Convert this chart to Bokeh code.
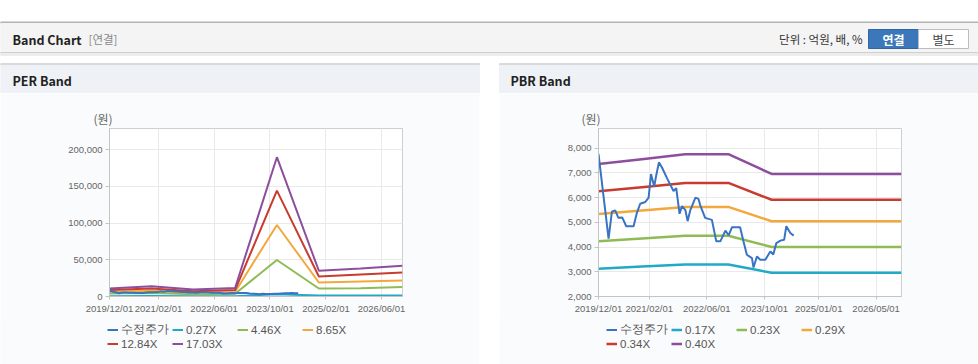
import pandas as pd
from bokeh.plotting import figure
from bokeh.models import (Range1d, FixedTicker, NumeralTickFormatter, DatetimeTickFormatter,
                          Legend, LegendItem, ColumnDataSource, Spacer)
from bokeh.layouts import column, row
from bokeh.embed import file_html
from bokeh.resources import INLINE
from bokeh.core.properties import value

# ---------------- data ----------------
band_dates = ["2019-12-01", "2020-12-01", "2021-12-01", "2022-12-01",
              "2023-12-01", "2024-12-01", "2025-12-01", "2026-12-01"]

per_labels = ["수정주가", "0.27X", "4.46X", "8.65X", "12.84X", "17.03X"]
per_027 = [500, 600, 400, 500, 3000, 1200, 1300, 1400]
per_446 = [4100, 4700, 3100, 3800, 49700, 10900, 11200, 12800]
per_865 = [6400, 7700, 5200, 6200, 97500, 19100, 20500, 21900]
per_1284 = [8700, 10900, 7300, 8800, 144400, 27300, 30000, 32800]
per_1703 = [10900, 14000, 9600, 11500, 189900, 35100, 38000, 41900]

pbr_labels = ["수정주가", "0.17X", "0.23X", "0.29X", "0.34X", "0.40X"]
pbr_017 = [3128, 3213, 3298, 3298, 2958, 2958, 2958, 2958]
pbr_023 = [4232, 4347, 4462, 4462, 4002, 4002, 4002, 4002]
pbr_029 = [5336, 5481, 5626, 5626, 5046, 5046, 5046, 5046]
pbr_034 = [6256, 6426, 6596, 6596, 5916, 5916, 5916, 5916]
pbr_040 = [7360, 7560, 7760, 7760, 6960, 6960, 6960, 6960]

price_dates = ["2019-12-01", "2020-02-24", "2020-03-23", "2020-04-20", "2020-05-17", "2020-06-18",
               "2020-07-22", "2020-09-22", "2020-10-20", "2020-11-17", "2020-12-30", "2021-01-27",
               "2021-02-16", "2021-03-15", "2021-04-01", "2021-04-24", "2021-05-22", "2021-07-05",
               "2021-08-25", "2021-09-17", "2021-10-15", "2021-11-05", "2021-12-03", "2021-12-22",
               "2022-01-14", "2022-02-26", "2022-03-24", "2022-04-07", "2022-05-19", "2022-07-15",
               "2022-08-21", "2022-09-24", "2022-11-06", "2022-12-03", "2023-01-01", "2023-03-10",
               "2023-04-07", "2023-05-06", "2023-06-18", "2023-07-01", "2023-07-30", "2023-08-27",
               "2023-10-09", "2023-11-20", "2023-12-15", "2024-01-10", "2024-02-13", "2024-03-16",
               "2024-04-03", "2024-05-07", "2024-06-04"]
price_values = [7771, 4343, 5429, 5486, 5184, 5200,
                4845, 4845, 5388, 5755, 5825, 6000,
                6955, 6449, 6900, 7429, 7200, 6751,
                6273, 6384, 5347, 5661, 5500, 5049,
                5500, 6000, 5950, 5700, 5184, 5102,
                4233, 4233, 4669, 4478, 4804, 4804,
                4233, 3690, 3551, 3171, 3620, 3486,
                3486, 3824, 3700, 4163, 4262, 4300,
                4845, 4571, 4465]

per_xticks = ["2019/12/01", "2021/02/01", "2022/06/01", "2023/10/01", "2025/02/01", "2026/06/01"]
pbr_xticks = ["2019/12/01", "2021/02/01", "2022/06/01", "2023/10/01", "2025/01/01", "2026/05/01"]
per_yticks = [0, 50000, 100000, 150000, 200000]
pbr_yticks = [2000, 3000, 4000, 5000, 6000, 7000, 8000]
x_start, x_end = "2019-12-01", "2026-12-01"

colors = ["#3874c3", "#22a9c5", "#8fbb55", "#f2a83c", "#c93b2e", "#8d4f9d"]

# ---------------- helpers ----------------
KFONT = "Noto Sans CJK KR"
AFONT = "Liberation Sans"
PANEL_BG = "#fafbfc"
CH_H = 225      # chart figure height (y 93..318)
LEG_H = 46      # legend strip height (y 318..364)


def ms(dstrs, fmt=None):
    return [pd.Timestamp(pd.to_datetime(d, format=fmt)).value // 10**6 for d in dstrs]


def chart(series, yr, yticks, xticks, left, right, title_off, linew):
    p = figure(width=479, height=CH_H, x_axis_type="datetime",
               x_range=Range1d(pd.Timestamp(x_start), pd.Timestamp(x_end)),
               y_range=Range1d(*yr), output_backend="svg", toolbar_location=None,
               min_border_left=left, min_border_right=right, min_border_top=35,
               min_border_bottom=22)
    p.border_fill_color = PANEL_BG
    p.background_fill_color = "#ffffff"
    p.outline_line_color = "#cfcfcf"
    p.title.text = "(원)"
    p.title.align = "left"
    p.title.offset = title_off
    p.title.standoff = 4
    p.title.text_font = KFONT
    p.title.text_font_size = "12px"
    p.title.text_font_style = "normal"
    p.title.text_color = "#666666"

    xt = ms(xticks, "%Y/%m/%d")
    p.xaxis.ticker = FixedTicker(ticks=xt)
    p.xgrid.ticker = FixedTicker(ticks=xt)
    fmt = "%Y/%m/%d"
    p.xaxis.formatter = DatetimeTickFormatter(milliseconds=fmt, seconds=fmt, minsec=fmt, minutes=fmt,
                                              hourmin=fmt, hours=fmt, days=fmt, months=fmt, years=fmt)
    p.yaxis.ticker = FixedTicker(ticks=yticks)
    p.ygrid.ticker = FixedTicker(ticks=yticks)
    p.yaxis.formatter = NumeralTickFormatter(format="0,0")
    for ax in (p.xaxis, p.yaxis):
        ax.axis_line_color = "#c4c4c4"
        ax.major_tick_line_color = "#c4c4c4"
        ax.minor_tick_line_color = None
        ax.major_tick_in = 0
        ax.major_label_text_font = AFONT
        ax.major_label_text_font_size = "9.5px"
        ax.major_label_text_color = "#666666"
    p.xaxis.major_tick_out = 3
    p.xaxis.major_label_standoff = 3
    p.yaxis.major_tick_out = 4
    p.yaxis.major_label_standoff = 3
    p.grid.grid_line_color = "#e9e9e9"

    bd = pd.to_datetime(band_dates)
    for i, vals in enumerate(series):
        src = ColumnDataSource(dict(x=bd, y=vals))
        p.line("x", "y", source=src, line_color=colors[i + 1], line_width=linew)
    psrc = ColumnDataSource(dict(x=pd.to_datetime(price_dates), y=price_values))
    p.line("x", "y", source=psrc, line_color=colors[0], line_width=2)
    return p


def legend_strip(labels, linew):
    f = figure(width=479, height=LEG_H, x_range=Range1d(0, 1), y_range=Range1d(0, 1),
               output_backend="svg", toolbar_location=None, min_border=0,
               x_axis_location=None, y_axis_location=None)
    f.grid.visible = False
    f.outline_line_color = None
    f.background_fill_color = PANEL_BG
    f.border_fill_color = PANEL_BG
    nan = float("nan")
    rs = []
    for i, lab in enumerate(labels):
        lw = 2 if i == 0 else linew
        rs.append(f.line(x=[nan], y=[nan], line_color=colors[i], line_width=lw))
    items = [LegendItem(label=labels[i], renderers=[rs[i]]) for i in range(len(labels))]
    leg = Legend(items=items, location=(107, 14), orientation="horizontal", ncols=4,
                 glyph_width=11, glyph_height=13, label_standoff=3, spacing=0, padding=0,
                 margin=0, label_height=13, label_width=51, label_text_font=AFONT,
                 label_text_font_size="11.5px", label_text_color="#555555",
                 background_fill_alpha=0, border_line_alpha=0)
    f.add_layout(leg)
    return f


# ---------------- header (main bar + panel title bars) ----------------
W = 978
hdr = figure(width=W, height=93, x_range=Range1d(0, W), y_range=Range1d(93, 0),
             output_backend="svg", toolbar_location=None, min_border=0,
             x_axis_location=None, y_axis_location=None)
hdr.grid.visible = False
hdr.outline_line_color = None
hdr.background_fill_color = "#ffffff"
hdr.border_fill_color = "#ffffff"

hdr.quad(left=0, right=W, top=21.5, bottom=23, color="#b3b3b3")
hdr.quad(left=0, right=W, top=23, bottom=52, color="#f4f4f4")
hdr.quad(left=0, right=W, top=52, bottom=53, color="#cfcfcf")
hdr.quad(left=0, right=W, top=53, bottom=55, color="#ececec")
hdr.text(x=[12], y=[38.5], text=["Band Chart"], text_font=value(KFONT), text_font_style="bold",
         text_font_size="12.5px", text_color="#222222", text_baseline="middle")
hdr.text(x=[88], y=[38.5], text=["[연결]"], text_font=value(KFONT),
         text_font_size="11.5px", text_color="#8a8a8a", text_baseline="middle")
hdr.text(x=[862], y=[38.5], text=["단위 : 억원, 배, %"], text_font=value(KFONT),
         text_font_size="11.5px", text_color="#333333", text_baseline="middle", text_align="right")
hdr.quad(left=868, right=918, top=29, bottom=48, fill_color="#3b77b9", line_color="#2f66a3")
hdr.quad(left=918, right=968, top=29, bottom=48, fill_color="#ffffff", line_color="#bdbdbd")
hdr.text(x=[893], y=[38.5], text=["연결"], text_font=value(KFONT), text_font_style="bold",
         text_font_size="12px", text_color="#ffffff", text_baseline="middle", text_align="center")
hdr.text(x=[943], y=[38.5], text=["별도"], text_font=value(KFONT),
         text_font_size="12px", text_color="#444444", text_baseline="middle", text_align="center")

for x0, title, tx in [(0, "PER Band", 12), (499, "PBR Band", 510)]:
    hdr.quad(left=x0, right=x0 + 479, top=63, bottom=65, color="#d9d9d9")
    hdr.quad(left=x0, right=x0 + 479, top=65, bottom=93, color="#eef2f6")
    hdr.text(x=[tx], y=[80], text=[title], text_font=value(KFONT), text_font_style="bold",
             text_font_size="12.5px", text_color="#222222", text_baseline="middle")

per = chart([per_027, per_446, per_865, per_1284, per_1703], (0, 229000),
            per_yticks, per_xticks, 109, 77, -16, 2)
pbr = chart([pbr_017, pbr_023, pbr_029, pbr_034, pbr_040], (2000, 8800),
            pbr_yticks, pbr_xticks, 99, 77, -17, 2.5)
per_leg = legend_strip(per_labels, 2)
pbr_leg = legend_strip(pbr_labels, 2.5)

layout = column(hdr,
                row(per, Spacer(width=20, height=CH_H), pbr, spacing=0),
                row(per_leg, Spacer(width=20, height=LEG_H), pbr_leg, spacing=0),
                spacing=0)

open("out.html", "w").write(file_html(layout, INLINE))
